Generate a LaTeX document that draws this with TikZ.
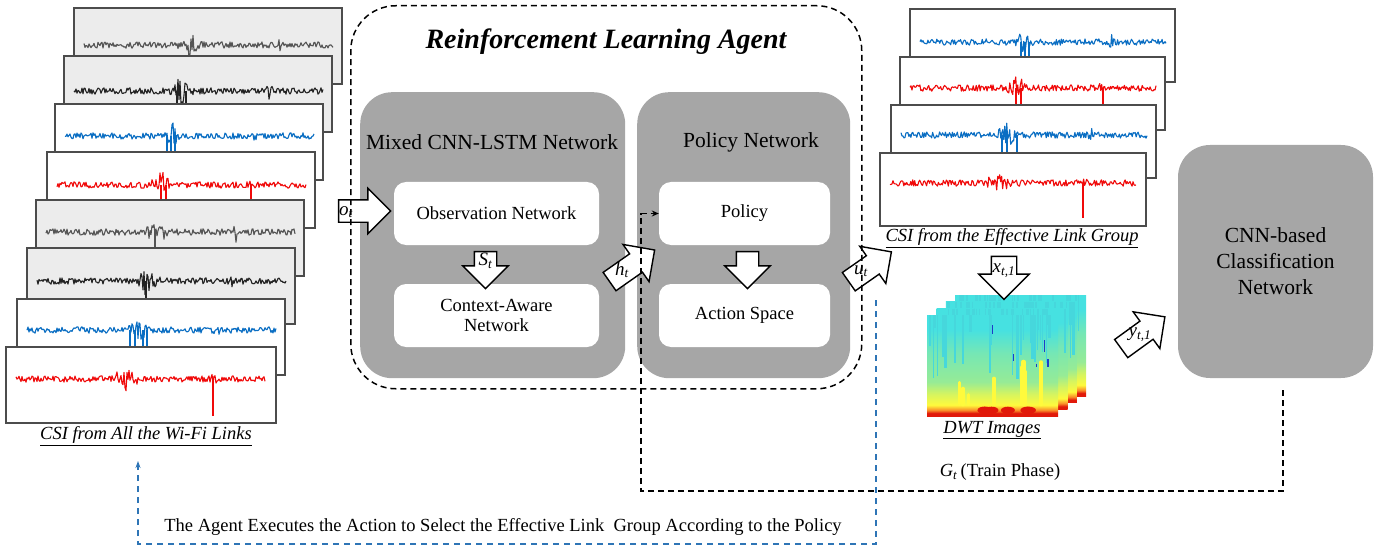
\documentclass[tikz,border=0pt]{standalone}
\usepackage{fontspec}
\setmainfont{Liberation Serif}
\usetikzlibrary{shapes.arrows,calc,arrows.meta}
\definecolor{sigblue}{RGB}{10,110,195}
\definecolor{sigred}{RGB}{240,10,10}
\definecolor{sigdark}{RGB}{35,35,35}
\definecolor{siggray}{RGB}{85,85,85}
\definecolor{boxgray}{RGB}{166,166,166}
\definecolor{panelgray}{RGB}{236,236,236}
\definecolor{dashblue}{RGB}{46,117,182}
\definecolor{dwtred}{RGB}{225,25,10}
\definecolor{dwtorange}{RGB}{250,140,40}
\definecolor{dwtyellow}{RGB}{255,250,60}
\definecolor{dwtgreen}{RGB}{150,235,150}
\definecolor{dwtcyan}{RGB}{70,225,225}
\definecolor{dwtstreak}{RGB}{70,215,220}
\definecolor{dwtblue}{RGB}{30,60,200}
\pgfdeclareverticalshading{dwtshade}{100bp}{color(0bp)=(dwtred); color(25bp)=(dwtred); color(26.5bp)=(dwtred); color(28bp)=(dwtorange); color(30.5bp)=(dwtyellow); color(36bp)=(dwtyellow!60!dwtgreen); color(42bp)=(dwtgreen); color(56bp)=(dwtgreen!60!dwtcyan); color(68bp)=(dwtcyan); color(100bp)=(dwtcyan)}
\newcommand\ilab[2]{\textit{#1}\textsubscript{\textit{#2}}}
\newcommand\csisig[6]{%
  \begin{scope}[shift={(#1.north west)}]
    \draw[#2, line width=1.1pt, line join=round]
      plot[domain=10:#3, samples=250]
      (\x, {#6 + 3.2*rand + 13*max(0,1-abs(\x-#4)/14)*rand + 8*max(0,1-abs(\x-#5)/4)*rand});
  \end{scope}}
\newcommand\spikes[4]{% node, color, list of x, from y to y
  \begin{scope}[shift={(#1.north west)}]
    \foreach \sx in {#3} {\draw[#2, line width=1.2pt] (\sx,#4);}
  \end{scope}}
\tikzset{
  t185/.style={font=\fontsize{18.5}{21}\selectfont},
  t215/.style={font=\fontsize{21.5}{26}\selectfont},
  panel/.style={draw=black!70, line width=1.1pt, minimum width=268, minimum height=76,
    anchor=north west, inner sep=0pt, outer sep=0pt},
  grayp/.style={panel, fill=panelgray},
  whitep/.style={panel, fill=white},
  rpanel/.style={panel, fill=white, minimum width=265, minimum height=73},
  graybox/.style={fill=boxgray, rounded corners=32pt, anchor=north west, inner sep=0pt},
  whitebox/.style={fill=white, rounded corners=12pt, minimum height=63, t185, align=center, inner sep=0pt},
  barrow/.style={single arrow, draw=black, line width=1.4pt, fill=white,
    single arrow head extend=11.5pt, single arrow tip angle=90, single arrow head indent=0pt,
    inner xsep=0pt, inner ysep=10.5pt},
  blab/.style={font=\fontsize{19}{20}\selectfont, inner sep=0pt},
  agentdash/.style={draw=black, line width=1.5pt, dash pattern=on 6pt off 4pt},
  bluedash/.style={draw=dashblue, line width=1.3pt, dash pattern=on 6pt off 5pt},
  dwt/.style={anchor=north west, minimum width=131, minimum height=101, inner sep=0pt, shading=dwtshade,
    path picture={
      \foreach \i in {1,...,34}{
        \pgfmathsetmacro\xx{2+rnd*127}
        \pgfmathsetmacro\ll{8+rnd*62}
        \pgfmathsetmacro\lw{0.8+rnd*2.2}
        \draw[dwtstreak, line width=\lw pt] ($(path picture bounding box.north west)+(\xx,0)$) -- ++(0,\ll);
      }
      \foreach \i in {1,...,5}{
        \pgfmathsetmacro\xx{4+rnd*120}
        \pgfmathsetmacro\yy{5+rnd*55}
        \pgfmathsetmacro\ll{3+rnd*10}
        \draw[dwtblue, line width=1.4pt] ($(path picture bounding box.north west)+(\xx,\yy)$) -- ++(0,\ll);
      }
      \foreach \i in {1,...,9}{
        \pgfmathsetmacro\xx{30+rnd*95}
        \pgfmathsetmacro\ll{8+rnd*35}
        \pgfmathsetmacro\lw{1.5+rnd*3}
        \draw[dwtyellow, line width=\lw pt, line cap=round] ($(path picture bounding box.south west)+(\xx,-12)$) -- ++(0,-\ll);
      }
      \foreach \i in {1,...,6}{
        \pgfmathsetmacro\xx{50+rnd*75}
        \fill[dwtred] ($(path picture bounding box.south west)+(\xx,-6)$) ellipse (7 and 3.5);
      }
    }},
}
\begin{document}
\begin{tikzpicture}[x=1pt,y=-1pt]
\pgfmathsetseed{7}
\useasboundingbox (0,0) rectangle (1388,548);

% ---------- left stack: CSI from all the links ----------
\node[grayp] (L1) at (74,8) {};   \csisig{L1}{siggray}{259}{116}{206}{37}
\node[grayp] (L2) at (64,56) {};  \csisig{L2}{sigdark}{259}{118}{205}{35}
\spikes{L2}{sigdark}{113,122}{35) -- (\sx,76}
\node[whitep] (L3) at (55,104) {}; \csisig{L3}{sigblue}{259}{117}{200}{32}
\spikes{L3}{sigblue}{112,116,120}{32) -- (\sx,76}
\node[whitep] (L4) at (47,152) {}; \csisig{L4}{sigred}{259}{115}{205}{33}
\spikes{L4}{sigred}{114,119,204}{33) -- (\sx,76}
\node[grayp] (L5) at (36,200) {};  \csisig{L5}{siggray}{259}{120}{200}{32}
\spikes{L5}{siggray}{119}{32) -- (\sx,76}
\node[grayp] (L6) at (27,248) {};  \csisig{L6}{sigdark}{259}{120}{205}{33}
\spikes{L6}{sigdark}{119}{33) -- (\sx,76}
\node[whitep] (L7) at (17,299) {}; \csisig{L7}{sigblue}{259}{120}{200}{31}
\spikes{L7}{sigblue}{113,118,126,130}{31) -- (\sx,76}
\node[whitep, minimum width=270] (L8) at (6,347) {}; \csisig{L8}{sigred}{259}{120}{207}{32}
\spikes{L8}{sigred}{207}{32) -- (\sx,69}
\node[t185] (csiall) at (146,436) {\underline{\textit{CSI from All the Wi-Fi Links}}};

% ---------- agent ----------
\node[font=\fontsize{28}{30}\selectfont\bfseries\itshape] (agtitle) at (606,42) {Reinforcement Learning Agent};
\node[graybox, minimum width=265, minimum height=286] (mix) at (360,92) {};
\node[graybox, minimum width=213, minimum height=286] (pnet) at (637,92) {};
\node[t215] (mixtitle) at (492,142) {Mixed CNN-LSTM Network};
\node[t215] (ptitle) at (751,142) {Policy Network};
\node[whitebox, minimum width=205] (obs) at (496.5,213.5) {Observation Network};
\node[whitebox, minimum width=205, font=\fontsize{18.5}{20}\selectfont] (ctx) at (496.5,315.5) {Context-Aware\\Network};
\node[whitebox, minimum width=171] (pol) at (744.5,213.5) {Policy};
\node[whitebox, minimum width=171] (act) at (744.5,315.5) {Action Space};

% ---------- right stack ----------
\node[rpanel] (R1) at (910,9) {};  \csisig{R1}{sigblue}{256}{115}{200}{33}
\spikes{R1}{sigblue}{111,115,119}{33) -- (\sx,73}
\node[rpanel] (R2) at (900,57) {}; \csisig{R2}{sigred}{256}{117}{202}{31}
\spikes{R2}{sigred}{116,121,203}{31) -- (\sx,73}
\node[rpanel] (R3) at (891,105) {}; \csisig{R3}{sigblue}{256}{118}{200}{30}
\spikes{R3}{sigblue}{111,116,126}{30) -- (\sx,73}
\node[rpanel, minimum width=266] (R4) at (880,153) {}; \csisig{R4}{sigred}{256}{118}{203}{30}
\spikes{R4}{sigred}{203}{30) -- (\sx,65}
\node[t185] (csieff) at (1012,238) {\underline{\textit{CSI from the Effective Link Group}}};

% ---------- DWT images ----------
\node[dwt] (D4) at (955,295) {};
\node[dwt] (D3) at (945.7,301.7) {};
\node[dwt] (D2) at (936.3,308.3) {};
\node[dwt] (D1) at (927,315) {};
\node[t185] (dwtcap) at (992,430) {\underline{\textit{DWT Images}}};

% ---------- classifier ----------
\node[graybox, minimum width=195, minimum height=233, align=center, anchor=center,
  font=\fontsize{21.5}{26}\selectfont] (cnn) at (1275.5,261.5) {CNN-based\\Classification\\Network};

% ---------- block arrows ----------
\node[barrow, minimum height=52] (oarr) at (359,211) {};
\node[blab] at (346,212) {\ilab{o}{t}};
\node[barrow, minimum height=37, rotate=-90] (sarr) at ($(obs.south)!0.5!(ctx.north)+(-11,0)$) {};
\node[blab] at ($(sarr)+(0,-4)$) {\ilab{S}{t}};
\node[barrow, minimum height=37, rotate=-90] (parr) at ($(pol.south)!0.5!(act.north)+(3,0)$) {};
\node[barrow, minimum height=55, rotate=35] (harr) at (627.5,269) {};
\node[blab] at (622,270) {\ilab{h}{t}};
\node[barrow, minimum height=52, rotate=35] (uarr) at (865.5,270) {};
\node[blab] at (861,271) {\ilab{u}{t}};
\node[barrow, minimum height=43, inner ysep=12pt, single arrow head extend=12.5pt, rotate=-90] (xarr) at (1004,271.5) {};
\node[blab] at (1004,271) {\ilab{x}{t,1}};
\node[barrow, minimum height=54, rotate=36] (yarr) at (1138.5,336) {};
\node[blab] at (1140,335) {\ilab{y}{t,1}};

% ---------- dashed lines ----------
\node[agentdash, rounded corners=45pt, minimum width=511, minimum height=383, anchor=north west, inner sep=0pt] (agent) at (350,5) {};
\coordinate (gstart) at (1283,390);
\coordinate (gturn) at (641,491);
\draw[agentdash, -{Stealth[length=7pt,width=6pt]}] (gstart) |- (gturn) |- (pol.west);
\node[font=\fontsize{18.5}{21}\selectfont] (gt) at (1000,472) {\textit{G}\textsubscript{\textit{t}}\,(Train Phase)};

\coordinate (bstart) at (876,300);
\coordinate (bcorner) at (138,544);
\coordinate (bend) at (138,461);
\draw[bluedash, -{Stealth[length=7pt,width=5pt]}] (bstart) |- (bcorner) -- (bend);
\node[font=\fontsize{18.5}{21}\selectfont] (btext) at (503,527) {The Agent Executes the Action to Select the Effective Link\ \ Group According to the Policy};
\end{tikzpicture}
\end{document}
